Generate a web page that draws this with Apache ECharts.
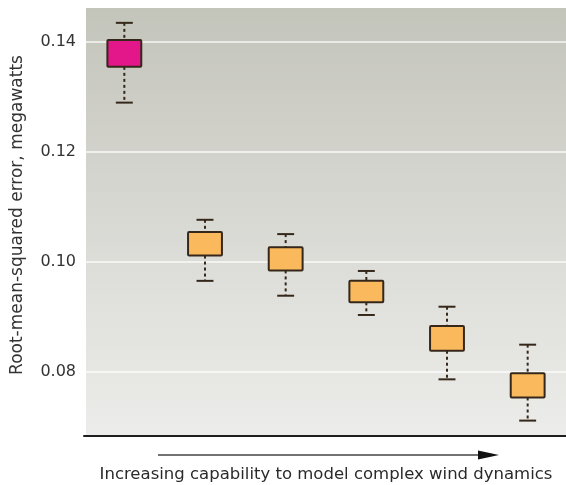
<!DOCTYPE html>
<html>
<head>
<meta charset="utf-8">
<script src="https://cdn.jsdelivr.net/npm/echarts@6/dist/echarts.min.js"></script>
<style>
  html, body { margin: 0; padding: 0; background: #ffffff; }
  #chart { width: 566px; height: 485px; }
</style>
</head>
<body>
<div id="chart"></div>
<script>
// Six model variants, ordered by how much wind dynamics they capture
const categories = ['1', '2', '3', '4', '5', '6'];
// RMSE distribution per model (megawatts)
const whiskerLow  = [0.1289, 0.0965, 0.0938, 0.0903, 0.0786, 0.0711];
const quartile1   = [0.1354, 0.1011, 0.0984, 0.0926, 0.0838, 0.0753];
const quartile3   = [0.1403, 0.1054, 0.1026, 0.0965, 0.0883, 0.0797];
const whiskerHigh = [0.1434, 0.1076, 0.1050, 0.0983, 0.0918, 0.0849];
// Baseline model is highlighted in magenta, the rest in orange
const boxColors = ['#e3168a', '#fbb95e', '#fbb95e', '#fbb95e', '#fbb95e', '#fbb95e'];
const yTicks = [0.08, 0.10, 0.12, 0.14];

const boxData = categories.map((c, i) => [i, whiskerLow[i], quartile1[i], quartile3[i], whiskerHigh[i]]);

const FONT = 'DejaVu Sans, Verdana, sans-serif';
const chart = echarts.init(document.getElementById('chart'), null, { renderer: 'canvas' });

function renderBox(params, api) {
  const i = api.value(0);
  const band = api.size([1, 0])[0];
  const boxW = band * 0.42;
  const capW = band * 0.21;
  const pLow = api.coord([i, api.value(1)]);
  const pQ1 = api.coord([i, api.value(2)]);
  const pQ3 = api.coord([i, api.value(3)]);
  const pHigh = api.coord([i, api.value(4)]);
  const x = pQ1[0];
  const stroke = '#35281b';
  const dashStyle = { stroke: stroke, lineWidth: 2, lineDash: [3, 3] };
  const solidStyle = { stroke: stroke, lineWidth: 2 };
  return {
    type: 'group',
    children: [
      { type: 'line', shape: { x1: x, y1: pHigh[1], x2: x, y2: pQ3[1] }, style: dashStyle },
      { type: 'line', shape: { x1: x, y1: pQ1[1], x2: x, y2: pLow[1] }, style: dashStyle },
      { type: 'line', shape: { x1: x - capW / 2, y1: pHigh[1], x2: x + capW / 2, y2: pHigh[1] }, style: solidStyle },
      { type: 'line', shape: { x1: x - capW / 2, y1: pLow[1], x2: x + capW / 2, y2: pLow[1] }, style: solidStyle },
      {
        type: 'rect',
        shape: { x: x - boxW / 2, y: pQ3[1], width: boxW, height: pQ1[1] - pQ3[1], r: 1 },
        style: { fill: boxColors[i], stroke: stroke, lineWidth: 2 }
      }
    ]
  };
}

const option = {
  animation: false,
  backgroundColor: '#ffffff',
  textStyle: { fontFamily: FONT },
  graphic: [
    {
      type: 'rect',
      z: -10,
      silent: true,
      shape: { x: 86, y: 8, width: 480, height: 428 },
      style: {
        fill: new echarts.graphic.LinearGradient(0, 0, 0, 1, [
          { offset: 0, color: '#c3c4ba' },
          { offset: 0.5, color: '#d9d9d4' },
          { offset: 1, color: '#ececea' }
        ])
      }
    },
    {
      type: 'line',
      silent: true,
      shape: { x1: 158, y1: 455, x2: 482, y2: 455 },
      style: { stroke: '#444', lineWidth: 1.5 }
    },
    {
      type: 'polygon',
      silent: true,
      shape: { points: [[478, 450.5], [499, 455], [478, 459.5]] },
      style: { fill: '#111' }
    }
  ],
  grid: { left: 84, right: -2, top: 8, bottom: 49, containLabel: false, outerBoundsMode: 'none' },
  xAxis: {
    type: 'category',
    data: categories,
    name: 'Increasing capability to model complex wind dynamics',
    nameLocation: 'middle',
    nameGap: 30,
    nameTextStyle: { fontSize: 16.5, color: '#2a2a2a', fontFamily: FONT },
    axisLine: { show: true, onZero: false, lineStyle: { color: '#1e1e1e', width: 2 } },
    axisTick: { show: false },
    axisLabel: { show: false },
    splitLine: { show: false }
  },
  yAxis: {
    type: 'value',
    min: 0.0683,
    max: 0.1461,
    name: 'Root-mean-squared error, megawatts',
    nameLocation: 'middle',
    nameGap: 58,
    nameTextStyle: { fontSize: 17, color: '#333', fontFamily: FONT, padding: [0, 0, 0, 14] },
    axisLine: { show: false },
    axisTick: { show: false, customValues: yTicks },
    axisLabel: {
      customValues: yTicks,
      margin: 8,
      fontSize: 16,
      color: '#333',
      fontFamily: FONT,
      formatter: v => v.toFixed(2)
    },
    splitLine: { show: true, lineStyle: { color: 'rgba(255,255,255,0.85)', width: 1.5 } }
  },
  series: [
    {
      type: 'custom',
      renderItem: renderBox,
      encode: { x: 0, y: [1, 2, 3, 4] },
      data: boxData,
      z: 5
    }
  ]
};

chart.setOption(option);
</script>
</body>
</html>
